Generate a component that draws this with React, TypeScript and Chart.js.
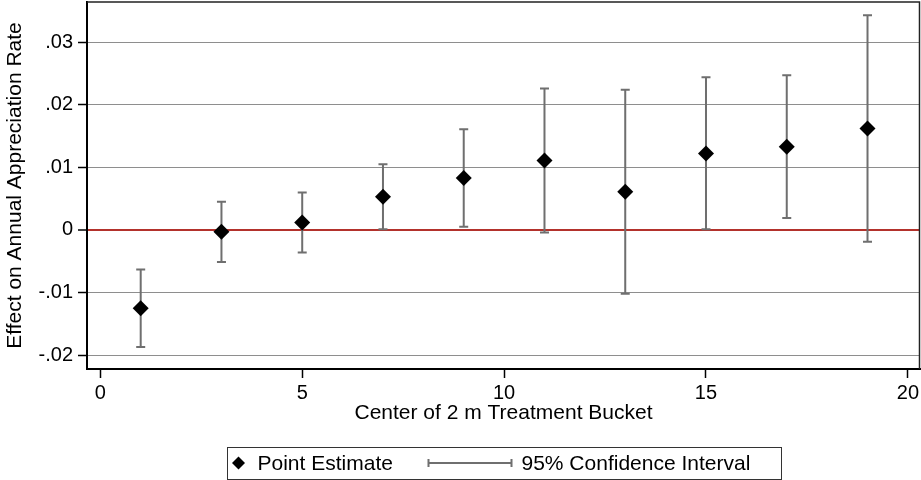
import React, { useEffect, useRef } from "react";
import { Chart, registerables } from "chart.js";

Chart.register(...registerables);

// ---- data ----
const bucketCenters = [1, 3, 5, 7, 9, 11, 13, 15, 17, 19];
const pointEstimates = [-0.0125, -0.0003, 0.0012, 0.0053, 0.0083, 0.0111, 0.0061, 0.0122, 0.0133, 0.0162];
const ciLower = [-0.0187, -0.0051, -0.0036, 0.0001, 0.0005, -0.0004, -0.0102, 0.0001, 0.0019, -0.0019];
const ciUpper = [-0.0063, 0.0045, 0.006, 0.0105, 0.0161, 0.0226, 0.0224, 0.0244, 0.0247, 0.0343];
const xTicks = [0, 5, 10, 15, 20];
const yTicks = [-0.02, -0.01, 0, 0.01, 0.02, 0.03];
const legendLabels = ["Point Estimate", "95% Confidence Interval"];
const xTitle = "Center of 2 m Treatment Bucket";
const yTitle = "Effect on Annual Appreciation Rate";

const FONT = "'Liberation Sans', Arial, Helvetica, sans-serif";
const CI_COLOR = "#6f6f6f";

function fmtY(v: number): string {
  if (Math.abs(v) < 1e-12) return "0";
  return v.toFixed(2).replace("0.", ".");
}

const errorBarsPlugin = {
  id: "errorBars",
  beforeDatasetsDraw(chart: any) {
    const { ctx, scales } = chart;
    const x = scales.x;
    const y = scales.y;
    ctx.save();
    ctx.strokeStyle = CI_COLOR;
    ctx.lineWidth = 2;
    const cap = 4.5;
    bucketCenters.forEach((c, i) => {
      const px = x.getPixelForValue(c);
      const top = y.getPixelForValue(ciUpper[i]);
      const bot = y.getPixelForValue(ciLower[i]);
      ctx.beginPath();
      ctx.moveTo(px, top);
      ctx.lineTo(px, bot);
      ctx.moveTo(px - cap, top);
      ctx.lineTo(px + cap, top);
      ctx.moveTo(px - cap, bot);
      ctx.lineTo(px + cap, bot);
      ctx.stroke();
    });
    ctx.restore();
  },
};

const framePlugin = {
  id: "frameAndLegend",
  afterDraw(chart: any) {
    const { ctx, chartArea } = chart;
    ctx.save();
    // top & right frame
    ctx.strokeStyle = "#222";
    ctx.lineWidth = 1.5;
    ctx.beginPath();
    ctx.moveTo(chartArea.left, chartArea.top);
    ctx.lineTo(chartArea.right - 0.5, chartArea.top);
    ctx.lineTo(chartArea.right - 0.5, chartArea.bottom);
    ctx.stroke();

    // legend box
    const boxW = 554;
    const boxTop = 447.5;
    const boxBottom = 479.5;
    const cx = (chartArea.left + chartArea.right) / 2;
    const boxLeft = Math.round(cx - boxW / 2) + 0.5;
    ctx.strokeStyle = "#333";
    ctx.lineWidth = 1;
    ctx.strokeRect(boxLeft, boxTop, boxW, boxBottom - boxTop);

    const cy = 463;
    // diamond
    ctx.fillStyle = "#000";
    const dx = boxLeft + 11;
    const r = 6.5;
    ctx.beginPath();
    ctx.moveTo(dx - r, cy);
    ctx.lineTo(dx, cy - r);
    ctx.lineTo(dx + r, cy);
    ctx.lineTo(dx, cy + r);
    ctx.closePath();
    ctx.fill();

    ctx.font = `21px ${FONT}`;
    ctx.textBaseline = "middle";
    ctx.textAlign = "left";
    ctx.fillText(legendLabels[0], boxLeft + 30, cy + 1);

    // CI symbol
    const l1 = boxLeft + 201;
    const l2 = boxLeft + 284;
    ctx.strokeStyle = CI_COLOR;
    ctx.lineWidth = 2;
    ctx.beginPath();
    ctx.moveTo(l1, cy);
    ctx.lineTo(l2, cy);
    ctx.moveTo(l1, cy - 4);
    ctx.lineTo(l1, cy + 4);
    ctx.moveTo(l2, cy - 4);
    ctx.lineTo(l2, cy + 4);
    ctx.stroke();

    ctx.fillStyle = "#000";
    ctx.fillText(legendLabels[1], boxLeft + 294, cy + 1);
    ctx.restore();
  },
};

export default function App() {
  const canvasRef = useRef<HTMLCanvasElement | null>(null);

  useEffect(() => {
    document.body.style.margin = "0";
    const canvas = canvasRef.current;
    if (!canvas) return;
    const chart = new Chart(canvas, {
      type: "scatter",
      data: {
        datasets: [
          {
            label: legendLabels[0],
            data: bucketCenters.map((c, i) => ({ x: c, y: pointEstimates[i] })),
            pointStyle: "rectRot",
            pointRadius: 8,
            pointHoverRadius: 8,
            backgroundColor: "#000",
            borderColor: "#000",
            borderWidth: 0,
            clip: false,
          },
        ],
      },
      options: {
        animation: false,
        responsive: false,
        maintainAspectRatio: false,
        events: [],
        layout: { autoPadding: false, padding: { top: 2, right: 1, left: 0, bottom: 0 } },
        plugins: {
          legend: { display: false },
          tooltip: { enabled: false },
        },
        scales: {
          x: {
            type: "linear",
            position: "bottom",
            min: -0.33,
            max: 20.3,
            afterBuildTicks: (s: any) => {
              s.ticks = xTicks.map((v) => ({ value: v }));
            },
            afterFit: (s: any) => {
              s.height = 111;
              s.paddingLeft = 0;
              s.paddingRight = 0;
              s.paddingTop = 0;
              s.paddingBottom = 0;
            },
            grid: {
              display: true,
              drawOnChartArea: false,
              drawTicks: true,
              tickLength: 9,
              tickColor: "#000",
              tickWidth: 1.5,
            },
            border: { display: true, color: "#000", width: 2 },
            ticks: {
              padding: 3,
              color: "#000",
              autoSkip: false,
              maxRotation: 0,
              font: { size: 20, family: FONT },
              callback: (v: any) => String(v),
            },
            title: {
              display: true,
              text: xTitle,
              color: "#000",
              font: { size: 21, family: FONT },
              padding: { top: 0, bottom: 54 },
            },
          },
          y: {
            type: "linear",
            min: -0.0222,
            max: 0.0364,
            afterBuildTicks: (s: any) => {
              s.ticks = yTicks.map((v) => ({ value: v }));
            },
            afterFit: (s: any) => {
              s.width = 87;
              s.paddingLeft = 0;
              s.paddingRight = 0;
              s.paddingTop = 0;
              s.paddingBottom = 0;
            },
            grid: {
              display: true,
              drawOnChartArea: true,
              drawTicks: true,
              tickLength: 9,
              tickColor: "#000",
              tickWidth: 1.5,
              color: (ctx: any) => (ctx.tick && ctx.tick.value === 0 ? "#b3322c" : "#8e8e8e"),
              lineWidth: (ctx: any) => (ctx.tick && ctx.tick.value === 0 ? 2 : 1),
            },
            border: { display: true, color: "#000", width: 2 },
            ticks: {
              padding: 5,
              color: "#000",
              autoSkip: false,
              font: { size: 20, family: FONT },
              callback: (v: any) => fmtY(Number(v)),
            },
            title: {
              display: true,
              text: yTitle,
              color: "#000",
              font: { size: 21, family: FONT },
              padding: { top: 3, bottom: 0 },
            },
          },
        },
      },
      plugins: [errorBarsPlugin, framePlugin],
    } as any);
    return () => {
      chart.destroy();
    };
  }, []);

  return (
    <div style={{ position: "absolute", left: 0, top: 0, width: 921, height: 480, background: "#fff" }}>
      <canvas ref={canvasRef} width={921} height={480} style={{ display: "block", width: 921, height: 480 }} />
    </div>
  );
}
